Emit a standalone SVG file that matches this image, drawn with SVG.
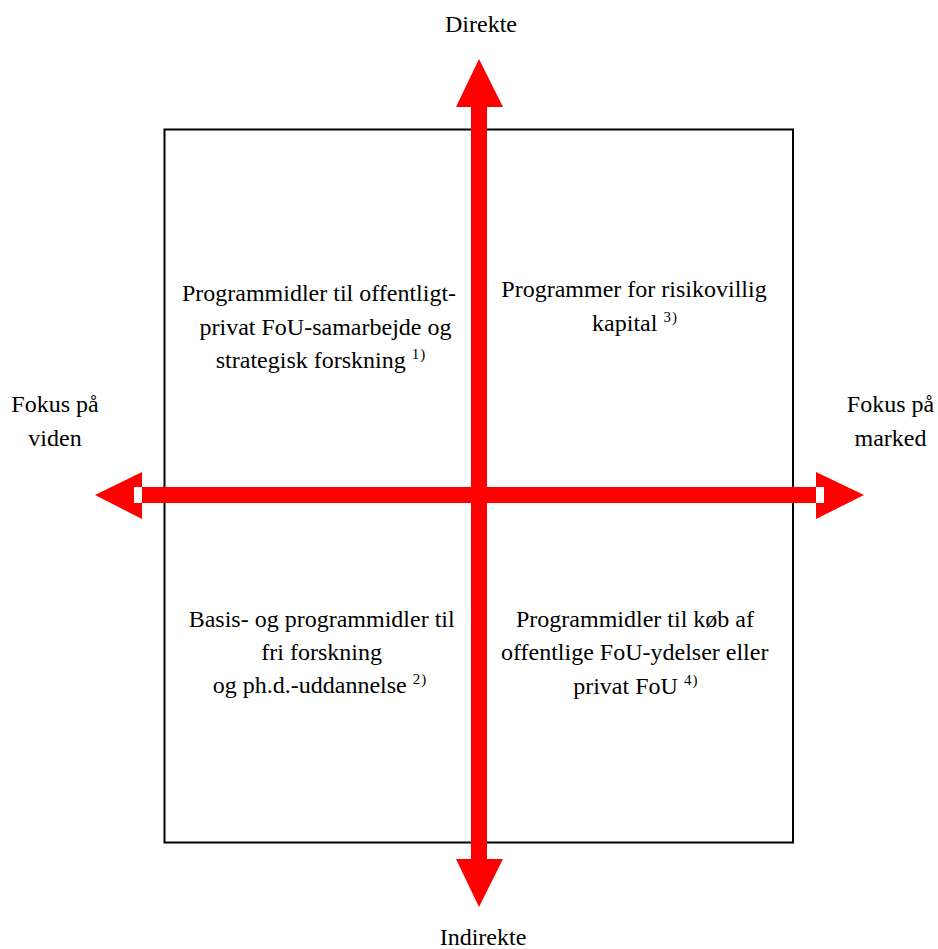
<svg xmlns="http://www.w3.org/2000/svg" width="938" height="949" viewBox="0 0 938 949">
<style>
text { font-family: "Liberation Serif", "Times New Roman", serif; font-size: 24px; fill: #000; text-anchor: middle; }
.sup { font-size: 15px; letter-spacing: 1px; }
.arrow { fill: #ff0000; stroke: none; }
.notch { fill: #ffffff; stroke: none; }
.frame { fill: none; stroke: #000; stroke-width: 2; }
</style>
<rect width="938" height="949" fill="#fff"/>
<g id="frame">
  <rect class="frame" x="164.5" y="129.5" width="628.5" height="713"/>
</g>
<g id="connectors">
  <polygon class="arrow" points="479,59 503,107 487,107 487,859 503,859 479,907 456,859 471,859 471,107 456,107"/>
  <polygon class="arrow" points="95,495 142,472 142,487 816,487 816,472 864,495 816,519 816,503 142,503 142,519"/>
  <rect class="notch" x="134" y="487" width="8" height="16"/>
  <rect class="notch" x="816" y="487" width="8" height="16"/>
</g>
<g id="label-direkte"><text x="481" y="32">Direkte</text></g>
<g id="label-indirekte"><text x="483" y="945">Indirekte</text></g>
<g id="label-viden"><text x="55" y="412">Fokus på</text><text x="55" y="446">viden</text></g>
<g id="label-marked"><text x="890.5" y="412">Fokus på</text><text x="890.5" y="446">marked</text></g>
<g id="q-upper-left">
  <text x="319" y="301">Programmidler til offentligt-</text>
  <text x="325.5" y="335">privat FoU-samarbejde og</text>
  <text x="321" y="368">strategisk forskning <tspan class="sup" dy="-9">1)</tspan></text>
</g>
<g id="q-upper-right">
  <text x="634" y="297">Programmer for risikovillig</text>
  <text x="635" y="331">kapital <tspan class="sup" dy="-9">3)</tspan></text>
</g>
<g id="q-lower-left">
  <text x="321.7" y="627">Basis- og programmidler til</text>
  <text x="321.7" y="660">fri forskning</text>
  <text x="320" y="693">og ph.d.-uddannelse <tspan class="sup" dy="-9">2)</tspan></text>
</g>
<g id="q-lower-right">
  <text x="635" y="627">Programmidler til køb af</text>
  <text x="634.7" y="660">offentlige FoU-ydelser eller</text>
  <text x="635.8" y="694">privat FoU <tspan class="sup" dy="-9">4)</tspan></text>
</g>
</svg>
